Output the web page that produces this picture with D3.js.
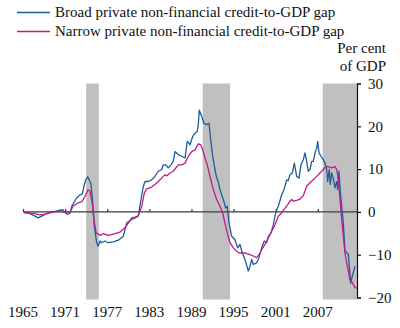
<!DOCTYPE html>
<meta charset="utf-8">
<script src="https://d3js.org/d3.v7.min.js"></script>
<style>
  body { margin: 0; background: #fff; }
  svg text { font-family: "Liberation Serif", Tinos, "Times New Roman", serif; fill: #111; }
</style>
<div id="chart"></div>
<script>
// credit-to-GDP gaps, per cent of GDP, read as [year, value]
const broad = [
  [1965.14, 0], [1966.0, -0.4], [1966.71, -1.0], [1967.18, -1.4], [1967.66, -1.0],
  [1968.13, -0.6], [1968.6, -0.2], [1969.09, 0], [1969.56, 0.1], [1970.27, 0.4],
  [1970.66, 0.5], [1970.98, -0.1], [1971.31, -0.6], [1971.7, -0.3], [1971.94, 1.3],
  [1972.26, 2.2], [1972.65, 3.3], [1973.12, 4.0], [1973.45, 4.2], [1973.69, 6.0],
  [1973.93, 7.5], [1974.22, 8.2], [1974.44, 7.5], [1974.69, 6.4], [1974.93, 2.2],
  [1975.16, -3.4], [1975.5, -7.2], [1975.73, -8.0], [1975.97, -6.8], [1976.21, -7.2],
  [1976.68, -6.8], [1977.15, -7.2], [1977.86, -7.0], [1978.58, -6.6], [1979.29, -5.7],
  [1979.77, -2.6], [1980.24, -2.0], [1980.95, -1.4], [1981.42, -1.0], [1981.81, 2.9],
  [1982.14, 6.0], [1982.38, 7.1], [1982.85, 7.1], [1983.33, 7.5], [1983.8, 8.3],
  [1984.27, 9.5], [1984.76, 9.9], [1984.99, 11.0], [1985.33, 11.0], [1985.7, 10.3],
  [1986.08, 11.0], [1986.41, 11.8], [1986.65, 14.1], [1987.12, 13.4], [1987.61, 13.0],
  [1988.08, 12.6], [1988.4, 16.5], [1988.79, 15.7], [1989.17, 17.6], [1989.5, 18.4],
  [1989.83, 18.8], [1989.97, 20.4], [1990.11, 23.8], [1990.46, 22.3], [1990.78, 20.7],
  [1991.17, 20.4], [1991.5, 20.7], [1991.74, 16.9], [1992.02, 13.0], [1992.35, 9.9],
  [1992.59, 7.9], [1992.82, 7.1], [1993.06, 5.2], [1993.39, 3.6], [1993.68, 2.1],
  [1993.87, 0.9], [1994.1, 1.3], [1994.34, -2.6], [1994.73, -5.7], [1995.2, -6.5],
  [1995.58, -8.4], [1995.91, -7.6], [1996.24, -9.6], [1996.62, -11.1], [1997.09, -13.8],
  [1997.34, -12.7], [1997.58, -11.1], [1997.81, -12.3], [1998.29, -11.9], [1998.62, -10.7],
  [1999.0, -8.4], [1999.37, -6.8], [1999.72, -7.2], [1999.94, -5.7], [2000.33, -4.9],
  [2000.66, -3.0], [2000.9, -1.0], [2001.14, 0.5], [2001.37, 1.3], [2001.85, 4.0],
  [2002.18, 5.2], [2002.56, 7.5], [2002.79, 7.3], [2003.03, 8.7], [2003.36, 9.1],
  [2003.65, 11.4], [2003.99, 8.3], [2004.32, 7.9], [2004.6, 11.0], [2004.93, 12.2],
  [2005.17, 13.8], [2005.41, 11.8], [2005.64, 9.5], [2005.88, 9.9], [2006.13, 11.8],
  [2006.35, 11.8], [2006.6, 13.8], [2006.84, 14.9], [2006.98, 16.5], [2007.17, 13.8],
  [2007.45, 13.0], [2007.78, 12.2], [2008.02, 11.4], [2008.26, 9.9], [2008.4, 7.1],
  [2008.63, 9.9], [2008.77, 6.4], [2008.97, 9.1], [2009.2, 7.9], [2009.44, 5.6],
  [2009.69, 7.1], [2009.83, 5.2], [2010.01, 9.5], [2010.16, 5.6], [2010.63, -2.6],
  [2010.87, -9.0], [2011.11, -9.6], [2011.34, -9.8], [2011.68, -16.7], [2011.91, -15.0],
  [2012.29, -12.7]
];

const narrow = [
  [1965.14, -0.2], [1966.0, -0.3], [1966.71, -0.4], [1967.42, -0.7], [1968.13, -0.5],
  [1968.85, -0.2], [1969.56, 0], [1970.27, 0.2], [1970.98, -0.1], [1971.7, 0],
  [1972.12, 1.3], [1972.83, 2.1], [1973.4, 2.4], [1973.83, 3.6], [1974.26, 5.2],
  [1974.54, 4.8], [1974.83, 2.4], [1975.11, -1.8], [1975.4, -4.8], [1975.97, -5.5],
  [1976.44, -5.1], [1977.15, -5.5], [1978.11, -5.1], [1978.82, -4.7], [1979.53, -3.7],
  [1980.0, -2.6], [1980.48, -1.4], [1980.95, -1.2], [1981.42, -0.9], [1981.91, 1.3],
  [1982.28, 4.4], [1982.62, 5.4], [1983.33, 5.8], [1983.8, 6.4], [1984.27, 7.1],
  [1984.76, 7.9], [1985.23, 8.7], [1985.47, 8.4], [1985.94, 9.1], [1986.41, 9.5],
  [1987.12, 11.0], [1987.61, 11.0], [1988.08, 11.4], [1988.55, 13.0], [1989.03, 14.1],
  [1989.5, 14.5], [1989.97, 15.9], [1990.31, 15.7], [1990.6, 14.5], [1990.93, 12.6],
  [1991.25, 11.0], [1991.64, 8.3], [1992.11, 5.2], [1992.59, 2.9], [1993.06, 1.3],
  [1993.45, -0.2], [1993.77, -2.6], [1994.1, -4.9], [1994.49, -7.2], [1994.96, -8.4],
  [1995.44, -9.2], [1995.81, -9.6], [1996.62, -9.6], [1997.34, -10.0], [1997.81, -10.3],
  [1998.29, -10.7], [1998.62, -10.0], [1999.0, -8.8], [1999.47, -7.6], [1999.94, -6.1],
  [2000.43, -4.5], [2000.9, -3.0], [2001.37, -1.0], [2001.85, -0.2], [2002.32, 0.9],
  [2002.71, 1.7], [2003.03, 2.5], [2003.28, 2.9], [2003.5, 2.5], [2003.99, 2.7],
  [2004.46, 3.0], [2004.93, 3.8], [2005.41, 6.0], [2005.88, 6.8], [2006.35, 7.5],
  [2006.84, 8.3], [2007.31, 9.1], [2007.78, 9.9], [2008.12, 10.6], [2008.49, 10.6],
  [2008.97, 10.3], [2009.44, 10.6], [2009.69, 9.9], [2009.92, 7.5], [2010.16, 2.9],
  [2010.4, -1.8], [2010.63, -5.7], [2010.87, -9.6], [2011.11, -11.9], [2011.34, -13.8],
  [2011.58, -15.8], [2011.91, -16.5], [2012.29, -17.7], [2012.58, -17.8]
];

// shaded crisis periods [start, end]
const bands = [[1974.0, 1975.8], [1990.6, 1994.5], [2007.7, 2012.58]];

const xTicks = [1965, 1971, 1977, 1983, 1989, 1995, 2001, 2007];
const yTicks = [30, 20, 10, 0, -10, -20];

const W = 400, H = 328;
const serif = "'Liberation Serif', Tinos, 'Times New Roman', serif";
const svg = d3.select("#chart").append("svg")
  .attr("width", W).attr("height", H)
  .attr("font-family", serif);

const x = d3.scaleLinear().domain([1965, 2012.58]).range([23, 357]);
const y = d3.scaleLinear().domain([-20, 30]).range([297.5, 83.5]);

// grey bands
svg.selectAll("rect.band")
  .data(bands)
  .enter().append("rect")
  .attr("class", "band")
  .attr("x", d => x(d[0]))
  .attr("width", d => x(d[1]) - x(d[0]))
  .attr("y", y(30))
  .attr("height", y(-20) - y(30) + 2)
  .style("fill", "#c0c0c0");

// zero line with year ticks
const xAxis = d3.axisTop(x).tickValues(xTicks).tickSize(3).tickFormat("");
svg.append("g")
  .attr("transform", "translate(0," + y(0) + ")")
  .call(xAxis)
  .call(g => g.select(".domain").attr("d", "M" + x.range()[0] + ",0H" + x.range()[1]))
  .selectAll("path,line").attr("stroke", "#3a3a3a").attr("stroke-width", 1.2);

// year labels below the plot
svg.selectAll("text.year")
  .data(xTicks)
  .enter().append("text")
  .attr("class", "year")
  .attr("x", d => x(d))
  .attr("y", 317)
  .attr("text-anchor", "middle")
  .style("font-family", serif)
  .style("font-size", "15px")
  .text(d => d);

// right hand axis
const yAxis = d3.axisRight(y).tickValues(yTicks).tickSize(4).tickPadding(7);
svg.append("g")
  .attr("transform", "translate(" + x.range()[1] + ",0)")
  .call(yAxis)
  .attr("font-family", serif)
  .call(g => g.select(".domain").attr("stroke", "#111").attr("stroke-width", 1.2))
  .call(g => g.selectAll(".tick line").attr("stroke", "#111").attr("stroke-width", 1.2))
  .call(g => g.selectAll(".tick text")
    .style("font-size", "15px")
    .style("font-family", serif)
    .attr("fill", "#111"));

const line = d3.line().x(d => x(d[0])).y(d => y(d[1]));

svg.append("path").datum(broad)
  .attr("d", line)
  .attr("fill", "none")
  .attr("stroke", "#1f5d98")
  .attr("stroke-width", 1.3)
  .attr("stroke-linejoin", "round");

svg.append("path").datum(narrow)
  .attr("d", line)
  .attr("fill", "none")
  .attr("stroke", "#c01a8e")
  .attr("stroke-width", 1.3)
  .attr("stroke-linejoin", "round");

// unit label
svg.append("text").attr("x", 386).attr("y", 53).attr("text-anchor", "end")
  .style("font-family", serif).style("font-size", "15px").text("Per cent");
svg.append("text").attr("x", 386).attr("y", 71).attr("text-anchor", "end")
  .style("font-family", serif).style("font-size", "15px").text("of GDP");

// legend
const legend = [
  { name: "Broad private non-financial credit-to-GDP gap", color: "#1f5d98" },
  { name: "Narrow private non-financial credit-to-GDP gap", color: "#c01a8e" }
];
const lg = svg.selectAll("g.legend")
  .data(legend)
  .enter().append("g")
  .attr("class", "legend")
  .attr("transform", (d, i) => "translate(0," + (i * 19) + ")");
lg.append("line")
  .attr("x1", 17).attr("x2", 50)
  .attr("y1", 12.5).attr("y2", 12.5)
  .attr("stroke", d => d.color)
  .attr("stroke-width", 1.3);
lg.append("text")
  .attr("x", 55).attr("y", 16.5)
  .style("font-family", serif)
  .style("font-size", "15px")
  .text(d => d.name);
</script>
